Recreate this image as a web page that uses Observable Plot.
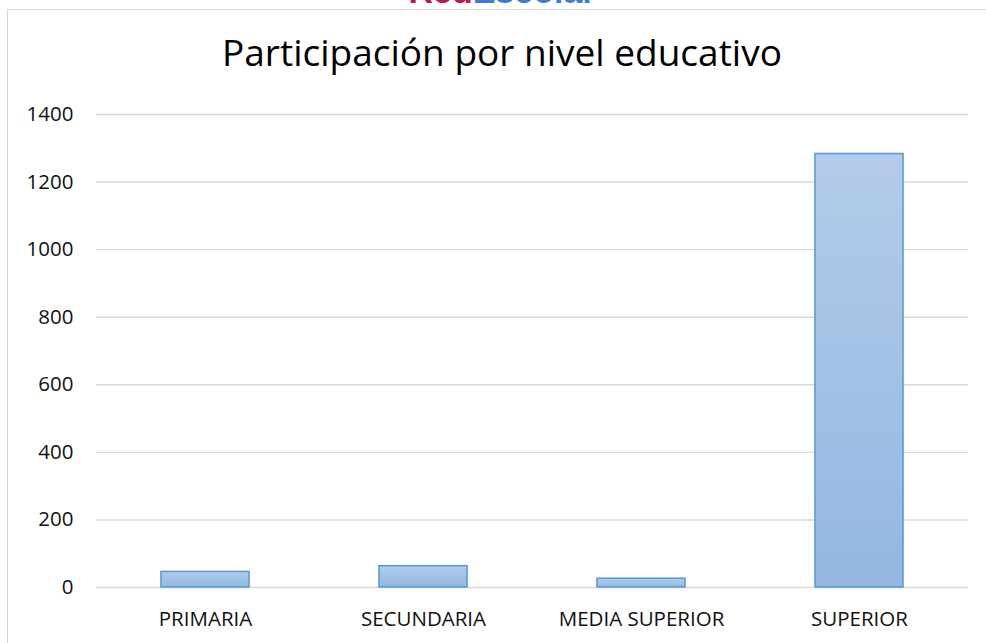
<!DOCTYPE html>
<html>
<head>
<meta charset="utf-8">
<script src="https://cdn.jsdelivr.net/npm/d3@7"></script>
<script src="https://cdn.jsdelivr.net/npm/@observablehq/plot@0.6"></script>
<style>
  html, body { margin: 0; padding: 0; background: #fff; }
  #page { position: relative; width: 986px; height: 643px; overflow: hidden; font-family: "Open Sans", sans-serif; }
  #logo { position: absolute; left: 0; width: 986px; top: -24px; padding-left: 18px; box-sizing: border-box; text-align: center; font: bold 34px "Liberation Sans", Arial, sans-serif; line-height: 30px; }
  #logo .r { color: #c4154c; }
  #logo .b { color: #3b7bd9; }
  #frame { position: absolute; left: 7px; top: 9px; right: -2px; bottom: -2px; border-left: 1px solid #d6d6d6; border-top: 1px solid #d6d6d6; }
  #title { position: relative; height: 90px; line-height: 104px; text-align: center; font-size: 37px; color: #000; padding-left: 18px; box-sizing: border-box; white-space: nowrap; }
  #chart { position: relative; }
</style>
</head>
<body>
<div id="page">
  <div id="logo"><span class="r">Red</span><span class="b">Escolar</span></div>
  <div id="frame"></div>
  <div id="title">Participación por nivel educativo</div>
  <div id="chart"></div>
</div>
<script>
const categories = ["PRIMARIA", "SECUNDARIA", "MEDIA SUPERIOR", "SUPERIOR"];
const values = [46, 63, 26, 1283];
const yTicks = [0, 200, 400, 600, 800, 1000, 1200, 1400];

const data = categories.map((c, i) => ({nivel: c, valor: values[i]}));

const chart = Plot.plot({
  width: 986,
  height: 553,
  marginTop: 24,
  marginBottom: 56,
  marginLeft: 96,
  marginRight: 18,
  style: {fontFamily: "'Open Sans', sans-serif", fontSize: "20.5px", color: "#111", background: "transparent", overflow: "visible"},
  x: {domain: categories, paddingInner: 0.595, paddingOuter: 0.2975, label: null, tickSize: 0, tickPadding: 24},
  y: {domain: [0, 1400], ticks: yTicks, label: null, tickSize: 0, tickPadding: 23, tickFormat: d => String(d)},
  marks: [
    Plot.gridY(yTicks, {stroke: "#d9d9d9", strokeOpacity: 1, strokeWidth: 1.4}),
    Plot.barY(data, {x: "nivel", y: "valor", fill: "#a3c1e6", stroke: "#5b9bd5", strokeWidth: 1.6})
  ]
});

const svg = d3.select(chart);
const defs = svg.insert("defs", ":first-child");
const grad = defs.append("linearGradient").attr("id", "barGrad").attr("x1", 0).attr("y1", 0).attr("x2", 0).attr("y2", 1);
grad.append("stop").attr("offset", "0%").attr("stop-color", "#b3cce9");
grad.append("stop").attr("offset", "100%").attr("stop-color", "#93b7e2");
svg.selectAll("g[aria-label='bar'] rect").attr("fill", "url(#barGrad)");

document.getElementById("chart").appendChild(chart);
</script>
</body>
</html>
